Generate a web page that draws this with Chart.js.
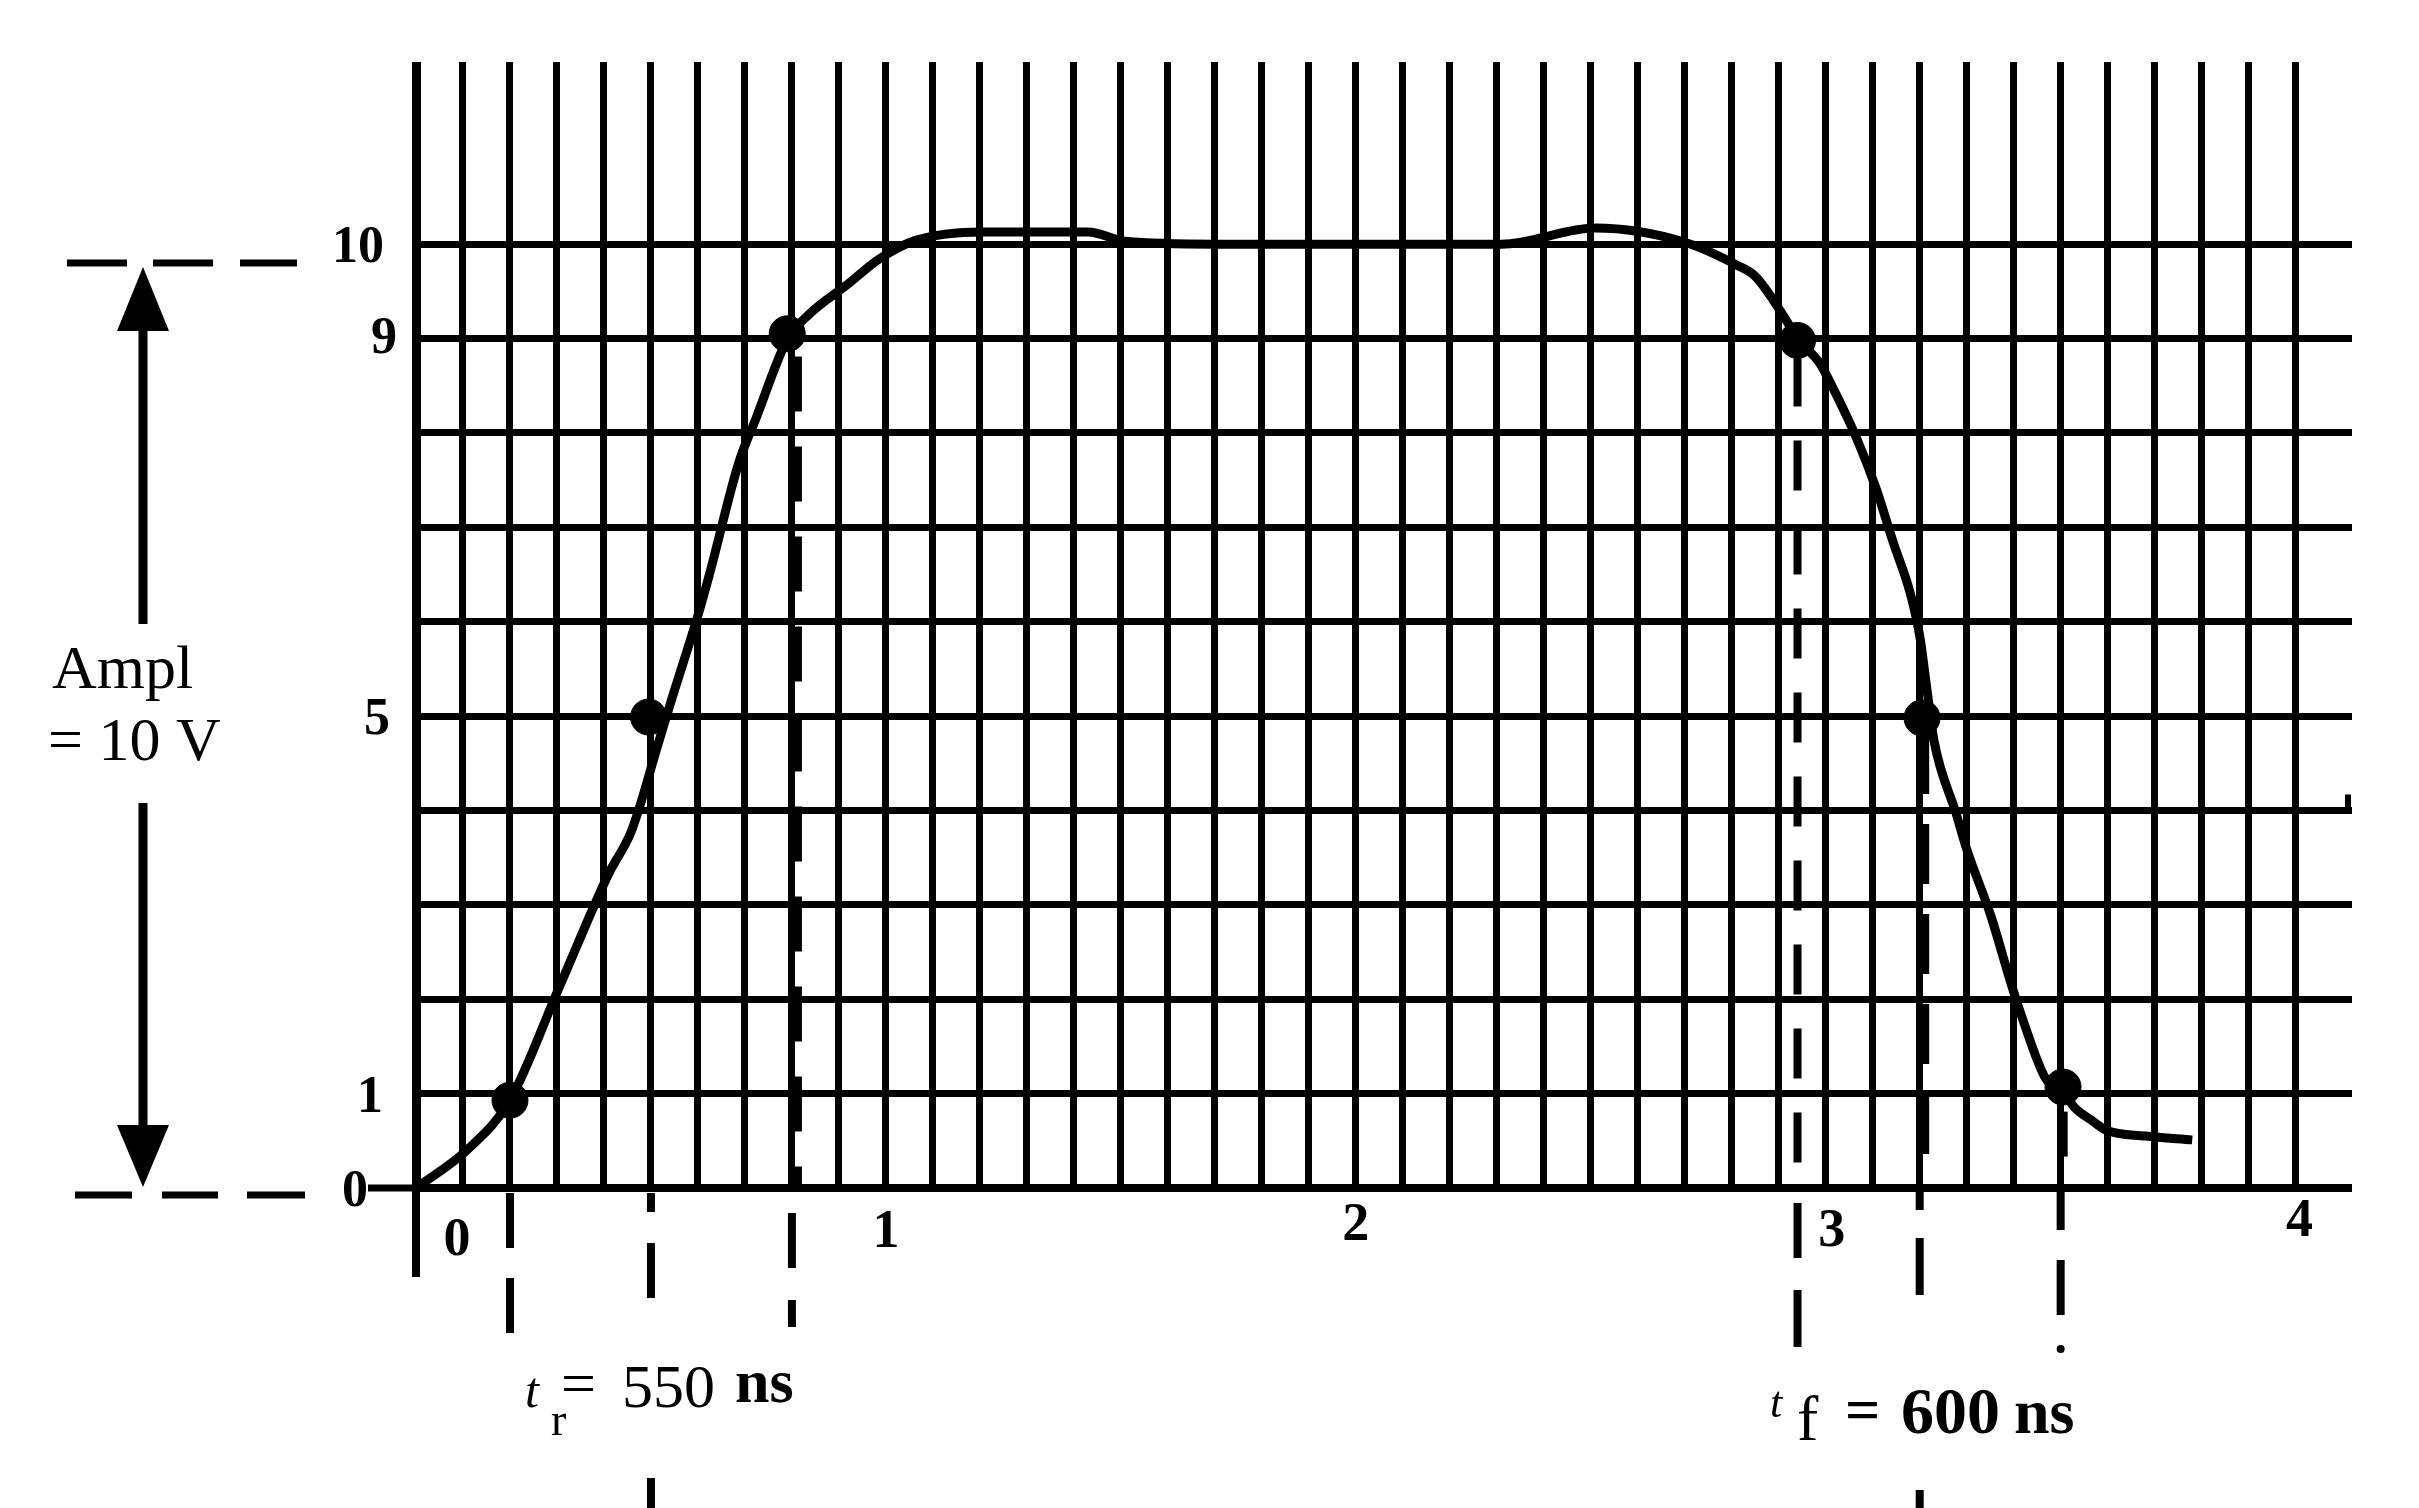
<!DOCTYPE html>
<html>
<head>
<meta charset="utf-8">
<script src="https://cdn.jsdelivr.net/npm/chart.js@4.4.1/dist/chart.umd.min.js"></script>
<style>
  html, body { margin: 0; padding: 0; background: #fff; }
  #wrap { width: 2419px; height: 1508px; }
</style>
</head>
<body>
<div id="wrap"><canvas id="pulse-chart" width="2419" height="1508"></canvas></div>
<script>
// pulse trace: time in us, amplitude in volts
const traceTime = [0, 0.108, 0.2, 0.305, 0.41, 0.459, 0.515, 0.543, 0.602, 0.626, 0.686, 0.724, 0.79,
  0.835, 0.92, 0.985, 1.063, 1.206, 1.43, 1.51, 1.70, 2.31, 2.51, 2.70, 2.81, 2.85, 2.909, 2.94,
  2.987, 3.02, 3.066, 3.108, 3.143, 3.18, 3.20, 3.215, 3.23, 3.278, 3.30, 3.351, 3.393, 3.417,
  3.468, 3.505, 3.532, 3.565, 3.598, 3.68, 3.78];
const traceVolts = [0, 0.40, 0.93, 2.13, 3.33, 3.79, 4.70, 5.16, 6.10, 6.53, 7.67, 8.16, 8.99,
  9.25, 9.58, 9.84, 10.04, 10.13, 10.13, 10.03, 10.0, 10.0, 10.17, 10.02, 9.78, 9.66, 9.25, 9.0,
  8.74, 8.43, 7.94, 7.40, 6.85, 6.30, 5.85, 5.30, 4.75, 3.96, 3.59, 2.89, 2.19, 1.82,
  1.16, 1.02, 0.84, 0.72, 0.61, 0.55, 0.51];

// 10% / 50% / 90% points on the rising and falling edge
const markerTime = [0.2, 0.495, 0.79, 2.94, 3.205, 3.505];
const markerVolts = [0.93, 4.99, 9.05, 8.98, 4.98, 1.07];
// the dashed reference lines dropped from those points
const refLineTime = [0.2, 0.5, 0.8, 2.94, 3.2, 3.5];
const refLineVolts = [1, 5, 9, 9, 5, 1];

const timeTicks = [0, 1, 2, 3, 4];
const timeTickLabels = ['0', '1', '2', '3', '4'];
const voltTicks = [0, 1, 5, 9, 10];
const voltTickLabels = ['0', '1', '5', '9', '10'];

const SERIF = '"Liberation Serif", "DejaVu Serif", serif';

const annotations = {
  id: 'annotations',
  afterDraw(chart) {
    const { ctx, chartArea, scales: { x, y } } = chart;
    const x0 = x.getPixelForValue(0);
    const y0 = y.getPixelForValue(0);

    const seg = (x1, y1, x2, y2, w, dash) => {
      ctx.save();
      ctx.strokeStyle = '#000';
      ctx.lineWidth = w;
      ctx.lineCap = 'butt';
      ctx.setLineDash(dash || []);
      ctx.beginPath();
      ctx.moveTo(x1, y1);
      ctx.lineTo(x2, y2);
      ctx.stroke();
      ctx.restore();
    };
    const text = (s, px, py, font, align) => {
      ctx.save();
      ctx.fillStyle = '#000';
      ctx.font = font;
      ctx.textAlign = align || 'left';
      ctx.textBaseline = 'alphabetic';
      ctx.fillText(s, px, py);
      ctx.restore();
    };

    // axis stubs outside the grid
    seg(x0, y0, x0, y0 + 89, 8);
    seg(x0 - 48, y0, x0, y0, 7);
    // small hook at the right end of the 4 V line
    const y4 = y.getPixelForValue(4);
    seg(chartArea.right - 4, y4 - 16, chartArea.right - 4, y4, 6);

    // dashed drops on top of the grid (90% rise, fall points)
    const overlay = [
      { i: 2, dx: 6, w: 8, dash: [55, 35] },
      { i: 3, dx: 0, w: 8, dash: [50, 34] },
      { i: 4, dx: 6, w: 7, dash: [60, 30] },
      { i: 5, dx: 4, w: 6, dash: [45, 35] }
    ];
    overlay.forEach(o => {
      const px = x.getPixelForValue(refLineTime[o.i]) + o.dx;
      seg(px, y.getPixelForValue(refLineVolts[o.i]) + 18, px, y0, o.w, o.dash);
    });

    // dashes below the time axis, offsets in px under the axis
    const below = [
      [[5, 60], [90, 145]],
      [[5, 24], [55, 110], [290, 330]],
      [[25, 80], [112, 139]],
      [[15, 70], [102, 159]],
      [[2, 22], [50, 107], [302, 330]],
      [[2, 42], [72, 127]]
    ];
    below.forEach((parts, i) => {
      const px = x.getPixelForValue(refLineTime[i]);
      parts.forEach(p => seg(px, y0 + p[0], px, y0 + p[1], 8));
    });
    ctx.save();
    ctx.fillStyle = '#000';
    ctx.beginPath();
    ctx.arc(x.getPixelForValue(refLineTime[5]), y0 + 161, 4, 0, Math.PI * 2);
    ctx.fill();
    ctx.restore();

    // tick labels
    const xLabelShift = [41, 0, 0, 6, 4];
    const xLabelDrop = [67, 59, 52, 58, 48];
    timeTicks.forEach((v, i) => {
      text(timeTickLabels[i], x.getPixelForValue(v) + xLabelShift[i], y0 + xLabelDrop[i], 'bold 54px ' + SERIF, 'center');
    });
    const yLabelX = [355, 370, 377, 384, 358];
    const yLabelDrop = [18, 18, 18, 14, 18];
    voltTicks.forEach((v, i) => {
      text(voltTickLabels[i], yLabelX[i], y.getPixelForValue(v) + yLabelDrop[i], 'bold 52px ' + SERIF, 'center');
    });

    // amplitude bracket on the left
    const yTop = y.getPixelForValue(9.8);
    const yBot = y0 + 7;
    [[67, 127], [153, 213], [240, 297]].forEach(d => seg(d[0], yTop, d[1], yTop, 7));
    [[75, 132], [162, 218], [247, 305]].forEach(d => seg(d[0], yBot, d[1], yBot, 7));
    const ax = 143;
    seg(ax, yTop + 60, ax, 624, 9);
    seg(ax, 803, ax, yBot - 62, 9);
    ctx.save();
    ctx.fillStyle = '#000';
    ctx.beginPath();
    ctx.moveTo(ax, yTop + 4); ctx.lineTo(ax - 26, yTop + 68); ctx.lineTo(ax + 26, yTop + 68); ctx.closePath();
    ctx.fill();
    ctx.beginPath();
    ctx.moveTo(ax, yBot - 8); ctx.lineTo(ax - 26, yBot - 70); ctx.lineTo(ax + 26, yBot - 70); ctx.closePath();
    ctx.fill();
    ctx.restore();
    text('Ampl', 52, 688, '62px ' + SERIF);
    text('= 10 V', 48, 760, '62px ' + SERIF);

    // rise time note
    text('t', 525, 1407, 'italic 50px ' + SERIF);
    text('r', 551, 1435, '46px ' + SERIF);
    text('=', 561, 1404, '62px ' + SERIF);
    text('550', 622, 1407, '62px ' + SERIF);
    text('ns', 735, 1402, 'bold 62px ' + SERIF);

    // fall time note
    text('t', 1770, 1417, 'italic 44px ' + SERIF);
    text('f', 1797, 1440, '64px ' + SERIF);
    text('=', 1845, 1430, 'bold 62px ' + SERIF);
    text('600', 1901, 1433, 'bold 66px ' + SERIF);
    text('ns', 2014, 1433, 'bold 64px ' + SERIF);
  }
};

new Chart('pulse-chart', {
  type: 'line',
  data: {
    datasets: [{
      label: 'pulse',
      data: traceTime.map((t, i) => ({ x: t, y: traceVolts[i] })),
      borderColor: '#000',
      borderWidth: 9,
      pointRadius: 0,
      cubicInterpolationMode: 'monotone',
      clip: false
    }, {
      label: 'levels',
      data: markerTime.map((t, i) => ({ x: t, y: markerVolts[i] })),
      showLine: false,
      pointRadius: 18,
      pointBackgroundColor: '#000',
      pointBorderColor: '#000',
      clip: false
    }]
  },
  plugins: [annotations],
  options: {
    responsive: false,
    animation: false,
    events: [],
    layout: { padding: { left: 416, right: 67, top: 62, bottom: 320 } },
    plugins: { legend: { display: false }, tooltip: { enabled: false } },
    scales: {
      x: {
        type: 'linear',
        min: 0,
        max: 4.12,
        ticks: { display: false, stepSize: 0.1 },
        afterBuildTicks: axis => { axis.ticks = axis.ticks.filter(t => t.value <= 4.0001); },
        grid: { color: '#000', lineWidth: c => (c.tick && c.tick.value === 0 ? 9 : 7), drawTicks: false },
        border: { display: false }
      },
      y: {
        type: 'linear',
        min: 0,
        max: 11.93,
        ticks: { display: false, stepSize: 1 },
        afterBuildTicks: axis => { axis.ticks = axis.ticks.filter(t => t.value <= 10.0001); },
        grid: { color: '#000', lineWidth: c => (c.tick && c.tick.value === 0 ? 8 : 7), drawTicks: false },
        border: { display: false }
      }
    }
  }
});
</script>
</body>
</html>
